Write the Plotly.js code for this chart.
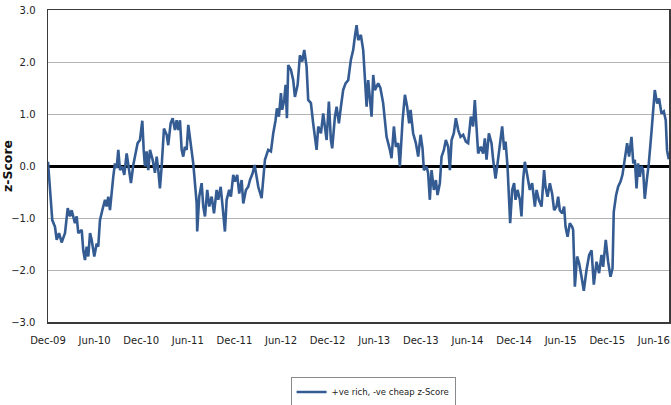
<!DOCTYPE html>
<html><head><meta charset="utf-8">
<script src="https://cdn.plot.ly/plotly-3.0.1.min.js"></script>
<style>html,body{margin:0;padding:0;background:#fff}#chart{width:671px;height:405px}</style>
</head><body><div id="chart"></div>
<script>
// months elapsed since Dec-09 (x) and z-score (y)
const monthsSinceDec09 = [0,0.26,0.48,0.55,0.90,1.12,1.42,1.76,2.19,2.54,
2.83,3.05,3.47,3.69,3.90,4.34,4.54,4.76,4.98,5.19,
5.41,5.62,5.96,6.27,6.47,6.69,6.99,7.34,7.55,7.76,
7.98,8.20,8.40,8.62,8.84,9.05,9.27,9.56,9.82,10.13,
10.33,10.68,10.98,11.29,11.54,11.84,12.14,12.32,12.48,12.70,
12.91,13.13,13.47,13.77,13.99,14.20,14.41,14.63,14.93,15.28,
15.48,15.79,16.05,16.34,16.56,16.77,16.99,17.21,17.41,17.63,
17.85,18.06,18.28,18.49,18.70,18.92,19.14,19.21,19.47,19.78,
19.99,20.21,20.50,20.76,21.07,21.37,21.71,21.92,22.23,22.48,
22.78,23.00,23.33,23.55,23.85,24.07,24.36,24.62,24.93,25.14,
25.48,25.78,26.00,26.34,26.60,26.86,27.07,27.50,27.71,27.93,
28.35,28.70,29.00,29.30,29.47,29.73,29.99,30.15,30.41,30.59,
30.76,30.93,31.27,31.57,31.79,32.14,32.43,32.73,32.99,33.29,
33.50,33.85,34.14,34.36,34.58,34.79,35.14,35.43,35.65,35.87,
36.16,36.42,36.59,36.94,37.16,37.45,37.71,38.00,38.31,38.65,
38.99,39.29,39.51,39.73,39.94,40.28,40.58,41.02,41.22,41.66,
41.87,42.08,42.51,42.79,43.15,43.59,44.02,44.23,44.53,44.79,
45.08,45.30,45.65,45.95,46.24,46.50,46.68,47.01,47.36,47.66,
47.97,48.22,48.39,48.74,48.94,49.16,49.38,49.68,49.94,50.15,
50.45,50.67,50.97,51.22,51.52,51.74,51.96,52.25,52.51,52.81,
53.11,53.45,53.80,54.09,54.44,54.73,54.95,55.17,55.38,55.72,
56.02,56.24,56.46,56.76,57.10,57.31,57.62,57.88,58.17,58.47,
58.73,58.91,59.16,59.33,59.50,59.76,60.01,60.19,60.45,60.75,
60.96,61.17,61.39,61.74,62.03,62.33,62.68,62.90,63.19,63.54,
63.87,64.05,64.31,64.61,64.90,65.16,65.47,65.68,65.89,66.19,
66.45,66.63,66.89,67.18,67.48,67.61,67.83,68.12,68.38,68.69,
68.98,69.33,69.67,69.98,70.27,70.62,70.95,71.26,71.47,71.81,
72.11,72.42,72.68,72.84,73.14,73.40,73.71,73.96,74.26,74.56,
74.81,75.12,75.35,75.55,75.77,75.97,76.19,76.41,76.62,76.83,
77.09,77.35,77.70,77.90,78.12,78.42,78.67,78.98,79.28,79.53,
79.70,79.92];
const zScore = [0.08,-0.46,-0.78,-1.04,-1.17,-1.42,-1.29,-1.47,-1.29,-0.81,
-0.97,-0.85,-1.10,-0.97,-1.29,-1.23,-1.62,-1.81,-1.55,-1.74,
-1.29,-1.42,-1.74,-1.49,-1.55,-1.04,-0.85,-0.65,-0.78,-0.59,
-0.85,-0.46,-0.21,0.05,-0.04,0.31,-0.08,-0.01,-0.17,0.24,
-0.01,-0.33,0.02,0.28,0.44,0.5,0.87,0.31,-0.01,0.28,
-0.08,0.31,0.12,-0.13,0.18,-0.08,-0.43,-0.01,0.72,0.6,
0.40,0.82,0.92,0.69,0.88,0.69,0.88,0.31,0.18,0.37,
0.31,0.79,0.56,0.31,0.05,-0.33,-0.72,-1.26,-0.59,-0.33,
-0.78,-0.97,-0.46,-0.78,-0.59,-0.91,-0.46,-0.65,-0.40,-0.78,
-1.26,-0.65,-0.46,-0.59,-0.17,-0.30,-0.17,-0.53,-0.27,-0.72,
-0.46,-0.40,-0.27,-0.14,0.02,-0.21,-0.40,-0.62,-0.27,0.12,
0.31,0.28,0.63,0.88,1.11,0.95,1.40,1.08,1.27,1.56,
0.92,1.94,1.85,1.65,1.33,1.56,2.13,2.01,2.23,1.91,
1.27,1.21,0.82,0.56,0.31,0.76,0.63,1.01,0.69,0.5,
1.24,0.5,0.34,0.95,1.14,0.82,1.14,1.46,1.59,1.65,
2.04,2.23,2.49,2.71,2.42,2.52,2.23,1.14,1.65,0.95,
1.75,1.46,1.59,1.50,1.21,0.56,0.31,0.15,0.76,0.37,
0.44,-0.01,0.88,1.37,1.14,0.82,1.08,0.63,0.44,0.18,
0.6,0.34,-0.08,-0.01,-0.14,-0.65,-0.08,-0.46,-0.27,-0.56,
-0.33,0.18,0.31,0.5,0.37,-0.08,0.5,0.63,0.92,0.69,
0.56,0.6,0.47,0.44,0.95,0.76,1.27,0.69,0.24,0.37,
0.24,0.53,0.12,0.63,0.44,0.12,-0.24,0.05,0.37,0.76,
0.31,0.47,-0.01,-0.46,-1.10,-0.46,-0.33,-0.65,-0.46,-0.65,
-0.97,-0.27,0.08,-0.21,-0.46,-0.33,-0.78,-0.46,-0.65,-0.78,
-0.08,-0.40,-0.59,-0.33,-0.53,-0.85,-0.78,-0.59,-0.85,-0.91,
-0.78,-1.17,-1.36,-1.10,-1.17,-1.23,-2.32,-1.74,-1.87,-2.13,
-2.40,-2.0,-1.71,-1.62,-2.28,-1.84,-2.06,-1.71,-1.94,-1.42,
-1.84,-2.13,-1.97,-0.88,-0.56,-0.40,-0.30,-0.17,0.14,0.44,
0.18,0.56,0.05,0.12,-0.43,0.05,-0.21,0.0,-0.08,-0.63,
-0.27,0.05,0.66,1.0,1.46,1.2,1.30,1.01,1.05,0.88,
0.30,0.13];
const xTickLabels = ["Dec-09","Jun-10","Dec-10","Jun-11","Dec-11","Jun-12","Dec-12","Jun-13","Dec-13","Jun-14","Dec-14","Jun-15","Dec-15","Jun-16"];
const monthsPerTick = 6;
const yTickValues = [-3,-2,-1,0,1,2,3];
const seriesName = "+ve rich, -ve cheap z-Score";
const yTitle = "z-Score";

const xTickVals = xTickLabels.map((_, i) => i * monthsPerTick);
const FONT = "DejaVu Sans, Verdana, sans-serif";
const xRange = [0, 79.95];

const traces = [{
  type: "scatter", mode: "lines", name: seriesName,
  x: monthsSinceDec09, y: zScore,
  line: {color: "#345c92", width: 2.6},
  hoverinfo: "skip"
}];

const layout = {
  width: 671, height: 405,
  margin: {l: 48, r: 2, t: 10, b: 83},
  paper_bgcolor: "#fff", plot_bgcolor: "#fff",
  font: {family: FONT, size: 10, color: "#222"},
  showlegend: true,
  legend: {
    orientation: "h", xref: "container", yref: "container",
    x: 0.556, xanchor: "center", y: 0.032, yanchor: "middle",
    bordercolor: "#8a8a8a", borderwidth: 1, font: {family: FONT, size: 8.5, color: "#222"},
    itemwidth: 30
  },
  xaxis: {
    range: xRange, tickmode: "array", tickvals: xTickVals, ticktext: xTickLabels,
    showgrid: false, zeroline: false, ticks: "", ticklabelstandoff: 8, automargin: false,
    showline: true, linecolor: "#3a3a3a", linewidth: 1.5, mirror: true,
    tickfont: {family: FONT, size: 10, color: "#222"}
  },
  xaxis2: {
    overlaying: "x", anchor: "free", position: 0.5, range: xRange,
    tickmode: "array", tickvals: xTickVals, showticklabels: false,
    ticks: "outside", ticklen: 3, tickwidth: 2, tickcolor: "#000",
    showline: true, linecolor: "#000", linewidth: 3, showgrid: false, zeroline: false,
    layer: "above traces"
  },
  yaxis: {
    range: [-3, 3], tickmode: "array", tickvals: yTickValues, tickformat: ".1f",
    showgrid: true, gridcolor: "#b4b4b4", gridwidth: 1, automargin: false,
    zeroline: true, zerolinecolor: "#000", zerolinewidth: 3,
    showline: true, linecolor: "#3a3a3a", linewidth: 1.5, mirror: true,
    ticks: "", ticklabelstandoff: 9,
    tickfont: {family: FONT, size: 10, color: "#222"},
    title: {text: yTitle, font: {family: FONT, size: 12.5, color: "#111", weight: "bold"}, standoff: 9}
  }
};

Plotly.newPlot("chart", traces, layout, {displayModeBar: false, staticPlot: true});
</script></body></html>
